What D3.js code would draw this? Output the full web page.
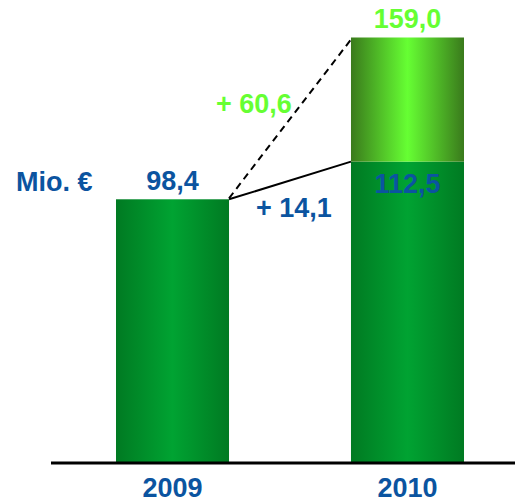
<!DOCTYPE html>
<html>
<head>
<meta charset="utf-8">
<script src="https://cdn.jsdelivr.net/npm/d3@7"></script>
<style>
body{margin:0;background:#fff}
text{font-family:"Liberation Sans",Arial,sans-serif;font-weight:bold}
</style>
</head>
<body>
<div id="chart"></div>
<script>
var years = ['2009','2010']
var baseVals = [98.4, 112.5]
var totalVals = [null, 159.0]
var baseLabels = ['98,4','112,5']
var totalLabels = [null,'159,0']
var deltaLabels = ['+ 14,1','+ 60,6']
var unitLabel = 'Mio. €'

var blue = '#0b54a0', lightGreen = '#66ff33'
var width = 515, height = 502

var svg = d3.select('#chart').append('svg')
  .attr('width', width).attr('height', height)

var defs = svg.append('defs')
function grad(id, edge, mid){
  var g = defs.append('linearGradient').attr('id', id)
    .attr('x1','0%').attr('x2','100%').attr('y1','0%').attr('y2','0%')
  g.append('stop').attr('offset','0%').attr('stop-color', edge)
  g.append('stop').attr('offset','50%').attr('stop-color', mid)
  g.append('stop').attr('offset','100%').attr('stop-color', edge)
}
grad('gDark', '#007a22', '#00a332')
grad('gLight', '#3a7a1c', '#66ff33')

var x = d3.scaleBand().domain(years).range([116, 464]).paddingInner(0.519).paddingOuter(0)
var y = d3.scaleLinear().domain([0, 159]).range([462, 37.5])

// base bars
svg.selectAll('.base').data(years).enter().append('rect')
  .attr('x', function(d){return x(d)})
  .attr('y', function(d,i){return y(baseVals[i])})
  .attr('width', x.bandwidth())
  .attr('height', function(d,i){return y(0) - y(baseVals[i])})
  .attr('fill', 'url(#gDark)')

// increase part
svg.selectAll('.top').data(years.filter(function(d,i){return totalVals[i] != null})).enter().append('rect')
  .attr('x', function(d){return x(d)})
  .attr('y', function(d){var i = years.indexOf(d); return y(totalVals[i])})
  .attr('width', x.bandwidth())
  .attr('height', function(d){var i = years.indexOf(d); return y(baseVals[i]) - y(totalVals[i])})
  .attr('fill', 'url(#gLight)')

// baseline
svg.append('line')
  .attr('x1', 51).attr('x2', width)
  .attr('y1', y(0) + 1).attr('y2', y(0) + 1)
  .attr('stroke', '#000').attr('stroke-width', 3)

// connector lines
var x0 = x(years[0]) + x.bandwidth(), x1 = x(years[1])
svg.append('line')
  .attr('x1', x0).attr('y1', y(baseVals[0]))
  .attr('x2', x1).attr('y2', y(baseVals[1]))
  .attr('stroke', '#000').attr('stroke-width', 2)
svg.append('line')
  .attr('x1', x0).attr('y1', y(baseVals[0]) - 1)
  .attr('x2', x1).attr('y2', y(totalVals[1]) + 2)
  .attr('stroke', '#000').attr('stroke-width', 2)
  .attr('stroke-dasharray', '7,5')

var fs = 27
// year labels
svg.selectAll('.yr').data(years).enter().append('text')
  .attr('x', function(d){return x(d) + x.bandwidth()/2})
  .attr('y', 497)
  .attr('text-anchor','middle').attr('font-size', fs).attr('fill', blue)
  .text(function(d){return d})

// value labels
svg.append('text').attr('x', x(years[0]) + x.bandwidth()/2).attr('y', y(baseVals[0]) - 9)
  .attr('text-anchor','middle').attr('font-size', fs).attr('fill', blue).text(baseLabels[0])
svg.append('text').attr('x', x(years[1]) + x.bandwidth()/2).attr('y', y(baseVals[1]) + 31)
  .attr('text-anchor','middle').attr('font-size', fs).attr('fill', blue).text(baseLabels[1])
svg.append('text').attr('x', x(years[1]) + x.bandwidth()/2).attr('y', y(totalVals[1]) - 10)
  .attr('text-anchor','middle').attr('font-size', fs).attr('fill', lightGreen).text(totalLabels[1])

svg.append('text').attr('x', 16).attr('y', 191)
  .attr('font-size', fs).attr('fill', blue).text(unitLabel)

svg.append('text').attr('x', 256).attr('y', 217)
  .attr('font-size', fs).attr('fill', blue).text(deltaLabels[0])
svg.append('text').attr('x', 216).attr('y', 113)
  .attr('font-size', fs).attr('fill', lightGreen).text(deltaLabels[1])
</script>
</body>
</html>
